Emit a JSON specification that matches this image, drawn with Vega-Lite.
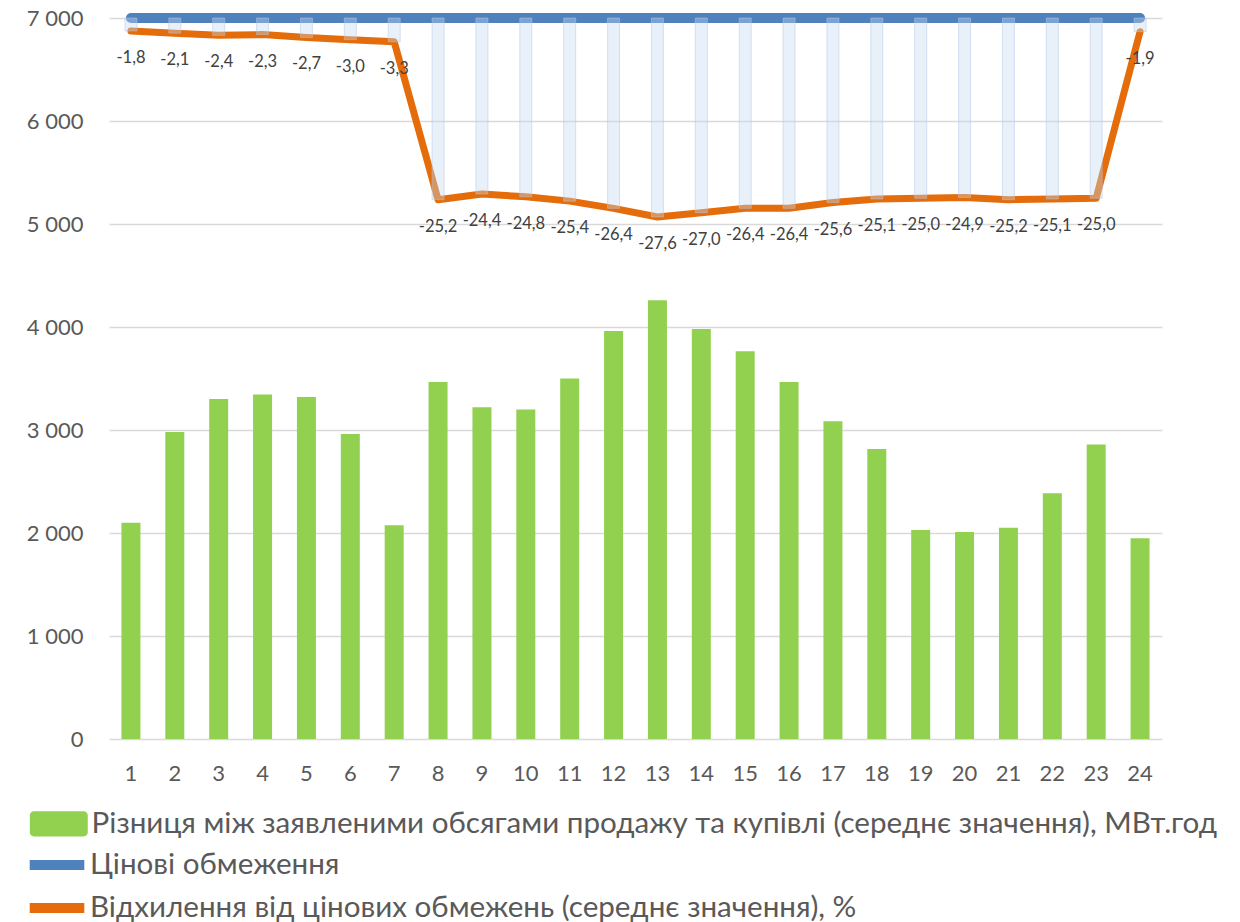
{
  "$schema": "https://vega.github.io/schema/vega-lite/v6.json",
  "width": 1053,
  "height": 721,
  "autosize": {"type": "none"},
  "padding": {"left": 109, "top": 18, "right": 78, "bottom": 183},
  "background": "white",
  "config": {
    "view": {"stroke": null},
    "font": "Lato",
    "locale": {"number": {"decimal": ",", "thousands": " ", "grouping": [3], "currency": ["", ""], "minus": "-"}},
    "axis": {"labelFont": "Lato", "labelFontSize": 22, "labelColor": "#595959", "domain": false, "ticks": false, "title": null}
  },
  "data": {"values": [
    {"hour": 1, "diff": 2100, "dev": -1.8, "limit": 0},
    {"hour": 2, "diff": 2980, "dev": -2.1, "limit": 0},
    {"hour": 3, "diff": 3300, "dev": -2.4, "limit": 0},
    {"hour": 4, "diff": 3345, "dev": -2.3, "limit": 0},
    {"hour": 5, "diff": 3320, "dev": -2.7, "limit": 0},
    {"hour": 6, "diff": 2960, "dev": -3.0, "limit": 0},
    {"hour": 7, "diff": 2075, "dev": -3.3, "limit": 0},
    {"hour": 8, "diff": 3465, "dev": -25.2, "limit": 0},
    {"hour": 9, "diff": 3220, "dev": -24.4, "limit": 0},
    {"hour": 10, "diff": 3200, "dev": -24.8, "limit": 0},
    {"hour": 11, "diff": 3500, "dev": -25.4, "limit": 0},
    {"hour": 12, "diff": 3960, "dev": -26.4, "limit": 0},
    {"hour": 13, "diff": 4260, "dev": -27.6, "limit": 0},
    {"hour": 14, "diff": 3980, "dev": -27.0, "limit": 0},
    {"hour": 15, "diff": 3765, "dev": -26.4, "limit": 0},
    {"hour": 16, "diff": 3465, "dev": -26.4, "limit": 0},
    {"hour": 17, "diff": 3085, "dev": -25.6, "limit": 0},
    {"hour": 18, "diff": 2815, "dev": -25.1, "limit": 0},
    {"hour": 19, "diff": 2030, "dev": -25.0, "limit": 0},
    {"hour": 20, "diff": 2010, "dev": -24.9, "limit": 0},
    {"hour": 21, "diff": 2050, "dev": -25.2, "limit": 0},
    {"hour": 22, "diff": 2385, "dev": -25.1, "limit": 0},
    {"hour": 23, "diff": 2860, "dev": -25.0, "limit": 0},
    {"hour": 24, "diff": 1950, "dev": -1.9, "limit": 0}
  ]},
  "encoding": {
    "x": {"field": "hour", "type": "ordinal", "scale": {"paddingInner": 0, "paddingOuter": 0}, "axis": {"labelAngle": 0, "labelPadding": 24, "grid": false}}
  },
  "layer": [
    {
      "mark": {"type": "bar", "size": 19},
      "encoding": {
        "y": {"field": "diff", "type": "quantitative", "scale": {"domain": [0, 7000]}, "axis": {"orient": "left", "values": [0, 1000, 2000, 3000, 4000, 5000, 6000, 7000], "format": ",d", "grid": true, "gridColor": "#d9d9d9", "gridWidth": 1.5, "labelPadding": 26}},
        "color": {"datum": "Різниця між заявленими обсягами продажу та купівлі (середнє значення), МВт.год", "type": "nominal",
          "scale": {"domain": ["Різниця між заявленими обсягами продажу та купівлі (середнє значення), МВт.год"], "range": ["#92D050"]},
          "legend": {"orient": "none", "legendX": -65, "legendY": 791, "direction": "vertical", "title": null, "labelFont": "Lato", "labelFontSize": 29.6, "labelColor": "#595959", "labelLimit": 0, "labelOffset": 18, "symbolSize": 784,
            "symbolType": "M-2.07,-0.6A0.3,0.3 0 0 1 -1.77,-0.9H1.77A0.3,0.3 0 0 1 2.07,-0.6V0.6A0.3,0.3 0 0 1 1.77,0.9H-1.77A0.3,0.3 0 0 1 -2.07,0.6Z",
            "symbolStrokeWidth": 0, "symbolOpacity": 1}
        }
      }
    },
    {
      "layer": [
        {
          "mark": {"type": "line", "strokeWidth": 10, "strokeCap": "round"},
          "encoding": {
            "y": {"field": "limit", "type": "quantitative", "scale": {"domain": [-100, 0]}, "axis": {"orient": "right", "values": [0, -10, -20, -30, -40, -50, -60, -70, -80, -90, -100], "grid": false, "labelPadding": 25, "labelAlign": "left"}},
            "stroke": {"datum": "Цінові обмеження", "type": "nominal",
              "scale": {"domain": ["Цінові обмеження", "Відхилення від цінових обмежень (середнє значення), %"], "range": ["#4F81BD", "#E46C0A"]},
              "legend": {"orient": "none", "legendX": -71, "legendY": 828, "direction": "vertical", "title": null, "labelFont": "Lato", "labelFontSize": 29.6, "labelColor": "#595959", "labelLimit": 0, "labelOffset": 14, "symbolSize": 784, "rowPadding": 3,
                "symbolType": "M-1.95,0H1.95", "symbolStrokeWidth": 10, "symbolOpacity": 1}
            }
          }
        },
        {
          "mark": {"type": "line", "strokeWidth": 7, "strokeCap": "round", "strokeJoin": "round"},
          "encoding": {
            "y": {"field": "dev", "type": "quantitative", "scale": {"domain": [-100, 0]}, "axis": null},
            "stroke": {"datum": "Відхилення від цінових обмежень (середнє значення), %", "type": "nominal"}
          }
        },
        {
          "mark": {"type": "bar", "size": 12, "fill": "#C2D7EF", "fillOpacity": 0.38, "stroke": "#B4C7E7", "strokeOpacity": 0.5, "strokeWidth": 1},
          "encoding": {
            "y": {"field": "dev", "type": "quantitative", "scale": {"domain": [-100, 0]}, "axis": null},
            "y2": {"datum": 0}
          }
        },
        {
          "mark": {"type": "text", "dy": 27, "fontSize": 16.5, "font": "Lato", "color": "#404040"},
          "encoding": {
            "y": {"field": "dev", "type": "quantitative", "scale": {"domain": [-100, 0]}, "axis": null},
            "text": {"field": "dev", "type": "quantitative", "format": ".1f"}
          }
        }
      ]
    }
  ],
  "resolve": {"scale": {"y": "independent"}, "axis": {"y": "independent"}}
}
